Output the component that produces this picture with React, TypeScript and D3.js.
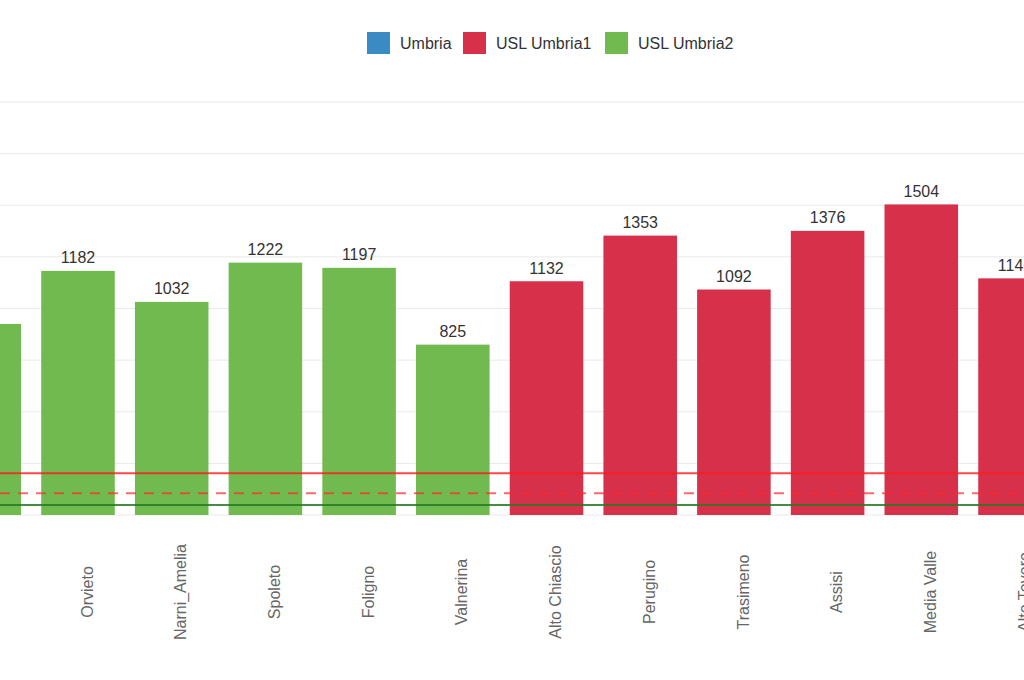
import React from 'react';
import * as d3 from 'd3';

const categories = [
  'Terni', 'Orvieto', 'Narni_Amelia', 'Spoleto', 'Foligno', 'Valnerina',
  'Alto Chiascio', 'Perugino', 'Trasimeno', 'Assisi', 'Media Valle', 'Alto Tevere',
];
const values = [925, 1182, 1032, 1222, 1197, 825, 1132, 1353, 1092, 1376, 1504, 1146];
const groups = [
  'USL Umbria2', 'USL Umbria2', 'USL Umbria2', 'USL Umbria2', 'USL Umbria2', 'USL Umbria2',
  'USL Umbria1', 'USL Umbria1', 'USL Umbria1', 'USL Umbria1', 'USL Umbria1', 'USL Umbria1',
];
const legendNames = ['Umbria', 'USL Umbria1', 'USL Umbria2'];
const yTicks = [0, 250, 500, 750, 1000, 1250, 1500, 1750, 2000];
// horizontal reference lines
const refSolidRed = 202;
const refDashedRed = 105;
const refGreen = 48;

const colors: Record<string, string> = {
  'Umbria': '#3a8ac4',
  'USL Umbria1': '#d6304b',
  'USL Umbria2': '#70ba50',
};

const W = 1024;
const H = 680;
const font = 'Arial, "Liberation Sans", sans-serif';

export default function App() {
  const step = 93.7;
  const firstCenter = -15.7;
  const x = d3.scaleBand<string>()
    .domain(categories)
    .range([firstCenter - step / 2, firstCenter - step / 2 + step * categories.length])
    .paddingInner(0.215)
    .paddingOuter(0.1075);

  const y = d3.scaleLinear().domain([0, 2000]).range([515, 102]);

  const legendX = [367, 463, 605];

  return (
    <div style={{ position: 'absolute', left: 0, top: 0 }}>
      <svg width={W} height={H} style={{ display: 'block', background: '#fff' }} fontFamily={font}>
        {yTicks.map(t => (
          <line key={t} x1={0} x2={W} y1={y(t)} y2={y(t)} stroke="#e9e9e9" strokeWidth={1} />
        ))}

        {categories.map((c, i) => (
          <rect
            key={c}
            x={x(c)}
            y={y(values[i])}
            width={x.bandwidth()}
            height={y(0) - y(values[i])}
            fill={colors[groups[i]]}
          />
        ))}

        <line x1={0} x2={W} y1={y(refSolidRed)} y2={y(refSolidRed)} stroke="#ff1a1a" strokeOpacity={0.8} strokeWidth={2} />
        <line x1={0} x2={W} y1={y(refDashedRed)} y2={y(refDashedRed)} stroke="#ff2a2a" strokeOpacity={0.7} strokeWidth={2} strokeDasharray="10,8" />
        <line x1={0} x2={W} y1={y(refGreen)} y2={y(refGreen)} stroke="#237a23" strokeOpacity={0.85} strokeWidth={2} />

        {categories.map((c, i) => (
          <text
            key={c}
            x={(x(c) ?? 0) + x.bandwidth() / 2}
            y={y(values[i]) - 7.5}
            textAnchor="middle"
            fontSize={16}
            fill="#333"
          >
            {values[i]}
          </text>
        ))}

        {categories.map(c => {
          const cx = (x(c) ?? 0) + x.bandwidth() / 2 + 9;
          return (
            <text
              key={c}
              transform={`translate(${cx},592) rotate(-90)`}
              textAnchor="middle"
              dy="0.35em"
              fontSize={16}
              fill="#666"
            >
              {c}
            </text>
          );
        })}

        {legendNames.map((n, i) => (
          <g key={n} transform={`translate(${legendX[i]},32)`}>
            <rect width={23} height={22} fill={colors[n]} />
            <text x={33} y={11} dy="0.35em" fontSize={16} fill="#333">{n}</text>
          </g>
        ))}
      </svg>
    </div>
  );
}
